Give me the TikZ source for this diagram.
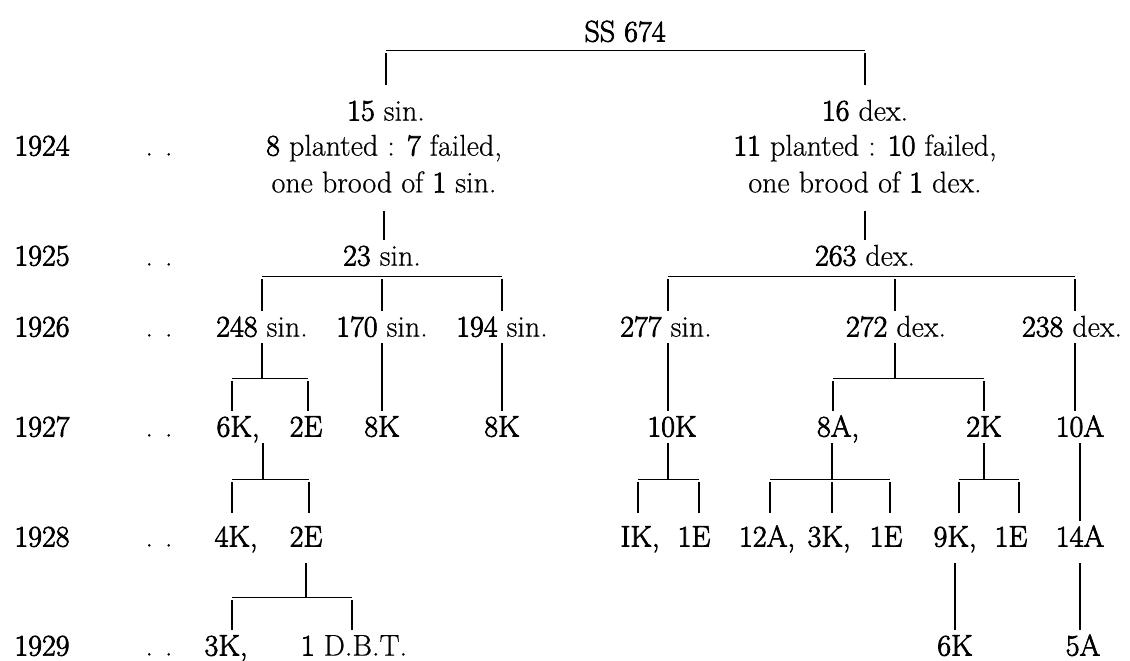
\documentclass[tikz,border=0pt]{standalone}
\usepackage{fontspec}
\setmainfont{Latin Modern Roman}[FakeBold=0.5]
\newfontfamily\heavyfont[FakeBold=2.4]{Latin Modern Roman}
\usepackage{tikz}
\usetikzlibrary{positioning, calc}
\newcommand{\hv}[1]{{\heavyfont #1}}
\tikzstyle{lbl} = [inner sep=3pt, text height=9.6pt, text depth=0pt, font=\fontsize{15}{18}\selectfont]
\tikzstyle{cnt} = [lbl, font=\fontsize{15}{18}\selectfont\heavyfont]
\tikzstyle{branch} = [line width=0.8pt]
\tikzstyle{bar} = [line width=0.5pt]
\tikzstyle{leg} = [branch, shorten <=1.5pt]

\begin{document}
\begin{tikzpicture}[x=0.5pt, y=-0.5pt]
    \useasboundingbox (0,0) rectangle (1130,660);

    % Titel
    \node (ss) [cnt] at (625,32) {SS 674};

    % Jahre
    \node (y24) [cnt] at (42,146) {1924};
    \node (dt24) [lbl] at (159,146) {.\hspace{0.4em}.};
    \node (y25) [cnt] at (42,256) {1925};
    \node (dt25) [lbl] at (159,256) {.\hspace{0.4em}.};
    \node (y26) [cnt] at (42,327) {1926};
    \node (dt26) [lbl] at (159,327) {.\hspace{0.4em}.};
    \node (y27) [cnt] at (42,427) {1927};
    \node (dt27) [lbl] at (159,427) {.\hspace{0.4em}.};
    \node (y28) [cnt] at (42,537) {1928};
    \node (dt28) [lbl] at (159,537) {.\hspace{0.4em}.};
    \node (y29) [cnt] at (42,646) {1929};
    \node (dt29) [lbl] at (159,646) {.\hspace{0.4em}.};

    % Eltern
    \node (s15) [lbl] at (386,111) {\hv{15} sin.};
    \node (d16) [lbl] at (865,111) {\hv{16} dex.};

    % 1924
    \node (pl24s) [lbl] at (384,146) {\hv{8} planted : \hv{7} failed,};
    \node (br24s) [lbl, below=2.4pt of pl24s] {one brood of \hv{1} sin.};
    \node (pl24d) [lbl] at (865,146) {\hv{11} planted : \hv{10} failed,};
    \node (br24d) [lbl, below=2.4pt of pl24d] {one brood of \hv{1} dex.};

    % 1925
    \node (s23) [lbl] at (382,256) {\hv{23} sin.};
    \node (d263) [lbl] at (865,256) {\hv{263} dex.};

    % 1926
    \node (s248) [lbl] at (262,327) {\hv{248} sin.};
    \node (s170) [lbl] at (382,327) {\hv{170} sin.};
    \node (s194) [lbl] at (502,327) {\hv{194} sin.};
    \node (s277) [lbl] at (666,327) {\hv{277} sin.};
    \node (d272) [lbl] at (896,327) {\hv{272} dex.};
    \node (d238) [lbl] at (1072,327) {\hv{238} dex.};

    % 1927
    \node (k6) [cnt] at (238,427) {6K,};
    \node (e2a) [cnt] at (306,427) {2E};
    \node (k8a) [cnt] at (382,427) {8K};
    \node (k8b) [cnt] at (502,427) {8K};
    \node (k10) [cnt] at (672,427) {10K};
    \node (a8) [cnt] at (838,427) {8A,};
    \node (k2) [cnt] at (984,427) {2K};
    \node (a10) [cnt] at (1080,427) {10A};

    % 1928
    \node (k4) [cnt] at (236,537) {4K,};
    \node (e2b) [cnt] at (306,537) {2E};
    \node (ik) [cnt] at (640,537) {IK,};
    \node (e1a) [cnt] at (694,537) {1E};
    \node (a12) [cnt] at (767,537) {12A,};
    \node (k3a) [cnt] at (829,537) {3K,};
    \node (e1b) [cnt] at (886,537) {1E};
    \node (k9) [cnt] at (955,537) {9K,};
    \node (e1c) [cnt] at (1011,537) {1E};
    \node (a14) [cnt] at (1080,537) {14A};

    % 1929
    \node (k3b) [cnt] at (226,646) {3K,};
    \node (dbt) [lbl] at (354,646) {\hv{1} D.B.T.};
    \node (k6b) [cnt] at (955,646) {6K};
    \node (a5) [cnt] at (1083,646) {5A};

    % Stammbalken
    \coordinate (tl) at (386,50);
    \coordinate (tr) at (865,50);
    \draw [bar] (tl) -- (tr);
    \draw [leg, shorten >=5pt] (tl) -- (tl |- s15.north);
    \draw [leg, shorten >=5pt] (tr) -- (tr |- d16.north);

    % 1924 -> 1925
    \draw [branch, shorten <=6pt] (br24s.south) -- (br24s.south |- s23.north);
    \draw [branch, shorten <=6pt] (br24d.south) -- (br24d.south |- d263.north);

    % 1925 -> 1926
    \coordinate (al) at (262,276);
    \coordinate (am) at (382,276);
    \coordinate (ar) at (502,276);
    \draw [bar] (al) -- (ar);
    \draw [leg] (al) -- (al |- s248.north);
    \draw [leg] (am) -- (am |- s170.north);
    \draw [leg] (ar) -- (ar |- s194.north);
    \coordinate (bl) at (668,276);
    \coordinate (bm) at (895,276);
    \coordinate (br) at (1075,276);
    \draw [bar] (bl) -- (br);
    \draw [leg] (bl) -- (bl |- s277.north);
    \draw [leg] (bm) -- (bm |- d272.north);
    \draw [leg] (br) -- (br |- d238.north);

    % 1926 -> 1927
    \coordinate (cl) at (232,378);
    \coordinate (cr) at (308,378);
    \draw [branch] (s248.south) -- (s248.south |- cl);
    \draw [bar] (cl) -- (cr);
    \draw [leg] (cl) -- (cl |- k6.north);
    \draw [leg] (cr) -- (cr |- e2a.north);
    \draw [branch] (s170.south) -- (k8a.north);
    \draw [branch] (s194.south) -- (k8b.north);
    \draw [branch] (bl |- s277.south) -- (bl |- k10.north);
    \coordinate (dl) at (833,378);
    \coordinate (dr) at (984,378);
    \draw [branch] (bm |- d272.south) -- (bm |- dl);
    \draw [bar] (dl) -- (dr);
    \draw [leg] (dl) -- (dl |- a8.north);
    \draw [leg] (dr) -- (dr |- k2.north);
    \draw [branch] (br |- d238.south) -- (br |- a10.north);

    % 1927 -> 1928
    \coordinate (el) at (232,479);
    \coordinate (em) at (263,479);
    \coordinate (er) at (309,479);
    \draw [branch] (em |- k6.south) -- (em);
    \draw [bar] (el) -- (er);
    \draw [leg, shorten >=4pt] (el) -- (el |- k4.north);
    \draw [leg, shorten >=4pt] (er) -- (er |- e2b.north);
    \coordinate (gl) at (638,479);
    \coordinate (gm) at (668,479);
    \coordinate (gr) at (699,479);
    \draw [branch] (gm |- k10.south) -- (gm);
    \draw [bar] (gl) -- (gr);
    \draw [leg, shorten >=4pt] (gl) -- (gl |- ik.north);
    \draw [leg, shorten >=4pt] (gr) -- (gr |- e1a.north);
    \coordinate (hl) at (770,479);
    \coordinate (hm) at (832,479);
    \coordinate (hr) at (890,479);
    \draw [branch] (hm |- a8.south) -- (hm);
    \draw [bar] (hl) -- (hr);
    \draw [leg, shorten >=4pt] (hl) -- (hl |- a12.north);
    \draw [leg, shorten >=4pt] (hm) -- (hm |- k3a.north);
    \draw [leg, shorten >=4pt] (hr) -- (hr |- e1b.north);
    \coordinate (il) at (959,479);
    \coordinate (ir) at (1019,479);
    \draw [branch] (k2.south) -- (k2.south |- il);
    \draw [bar] (il) -- (ir);
    \draw [leg, shorten >=4pt] (il) -- (il |- k9.north);
    \draw [leg, shorten >=4pt] (ir) -- (ir |- e1c.north);
    \draw [branch] (a10.south) -- (a14.north);

    % 1928 -> 1929
    \coordinate (fl) at (232,597);
    \coordinate (fr) at (352,597);
    \draw [branch, shorten <=5pt] (e2b.south) -- (e2b.south |- fl);
    \draw [bar] (fl) -- (fr);
    \draw [leg] (fl) -- (fl |- k3b.north);
    \draw [leg] (fr) -- (fr |- dbt.north);
    \draw [branch, shorten <=5pt] (k9.south) -- (k9.south |- k6b.north);
    \draw [branch, shorten <=5pt] (a14.south) -- (a14.south |- a5.north);
\end{tikzpicture}
\end{document}
